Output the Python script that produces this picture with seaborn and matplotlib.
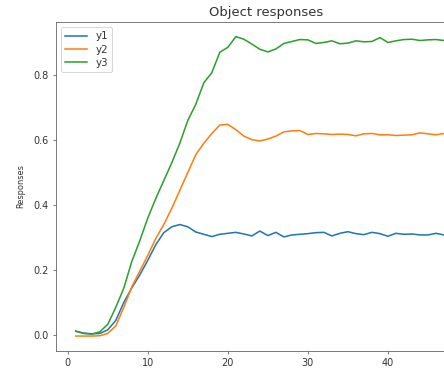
import matplotlib
matplotlib.use("Agg")
import matplotlib.pyplot as plt
import seaborn as sns

steps = list(range(1, 49))

y1 = [0.012, 0.006, 0.004, 0.005, 0.016, 0.045, 0.100, 0.145, 0.185, 0.230,
      0.278, 0.315, 0.333, 0.340, 0.333, 0.317, 0.310, 0.303, 0.310, 0.313,
      0.316, 0.311, 0.305, 0.320, 0.306, 0.316, 0.302, 0.308, 0.310, 0.312,
      0.315, 0.316, 0.305, 0.313, 0.318, 0.312, 0.309, 0.316, 0.312, 0.304,
      0.313, 0.310, 0.311, 0.308, 0.308, 0.313, 0.308, 0.306]

y2 = [-0.003, -0.003, -0.003, -0.002, 0.005, 0.028, 0.085, 0.148, 0.197, 0.245,
      0.297, 0.340, 0.390, 0.445, 0.500, 0.555, 0.590, 0.620, 0.646, 0.648,
      0.632, 0.612, 0.601, 0.597, 0.603, 0.612, 0.625, 0.628, 0.629, 0.617,
      0.620, 0.619, 0.617, 0.618, 0.617, 0.613, 0.619, 0.620, 0.616, 0.616,
      0.614, 0.615, 0.616, 0.622, 0.619, 0.616, 0.620, 0.622]

y3 = [0.012, 0.005, 0.003, 0.010, 0.033, 0.085, 0.144, 0.226, 0.290, 0.360,
      0.420, 0.475, 0.530, 0.590, 0.660, 0.710, 0.776, 0.807, 0.870, 0.885,
      0.918, 0.910, 0.895, 0.879, 0.871, 0.880, 0.897, 0.903, 0.909, 0.908,
      0.897, 0.900, 0.905, 0.896, 0.898, 0.905, 0.902, 0.903, 0.915, 0.900,
      0.905, 0.909, 0.910, 0.906, 0.908, 0.909, 0.906, 0.906]

xticks = [0, 10, 20, 30, 40]
yticks = [0.0, 0.2, 0.4, 0.6, 0.8]

series = {"y1": y1, "y2": y2, "y3": y3}
colors = sns.color_palette("tab10", 3)

plt.rcParams.update({
    "text.color": "0.2",
    "axes.labelcolor": "0.2",
    "xtick.color": "0.35",
    "ytick.color": "0.35",
    "xtick.labelcolor": "0.2",
    "ytick.labelcolor": "0.2",
    "axes.edgecolor": "0.35",
})

dpi = 70
fig = plt.figure(figsize=(444 / dpi, 370 / dpi), dpi=dpi)
ax = fig.add_axes([55.7 / 444, 19.3 / 370, 420.3 / 444, 328.4 / 370])

for (name, vals), c in zip(series.items(), colors):
    sns.lineplot(x=steps, y=vals, ax=ax, color=c, label=name, linewidth=1.6)

ax.set_xlim(-1.5, 51.0)
ax.set_ylim(-0.048, 0.962)
ax.set_xticks(xticks)
ax.set_yticks(yticks)
ax.set_title("Object responses", fontsize=13.5)
ax.set_ylabel("Responses", fontsize=8.5, labelpad=9)
ax.legend(loc="upper left", fontsize=10.5, labelspacing=0.3,
          handlelength=2.2)

fig.savefig("out.png", dpi=dpi)
